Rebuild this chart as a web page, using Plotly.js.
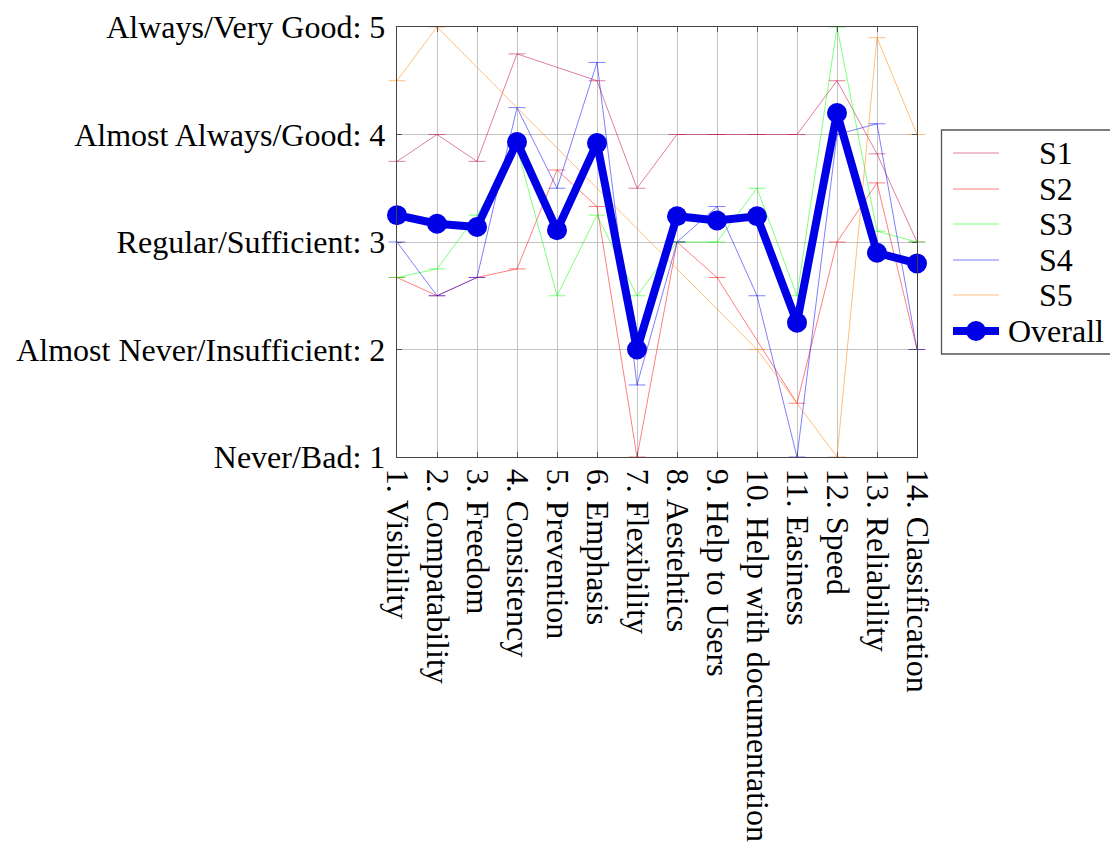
<!DOCTYPE html>
<html>
<head>
<meta charset="utf-8">
<script src="https://cdn.plot.ly/plotly-3.0.1.min.js"></script>
<style>
  html, body { margin: 0; padding: 0; background: #fff; }
  #chart { width: 1110px; height: 851px; }
</style>
</head>
<body>
<div id="chart"></div>
<script>
// Heuristic criteria (x axis) and rating scale (y axis)
const criteria = [
  "1. Visibility", "2. Compatability", "3. Freedom", "4. Consistency",
  "5. Prevention", "6. Emphasis", "7. Flexibility", "8. Aestehtics",
  "9. Help to Users", "10. Help with documentation", "11. Easiness",
  "12. Speed", "13. Reliability", "14. Classification"
];
const scaleValues = [1, 2, 3, 4, 5];
const scaleLabels = [
  "Never/Bad: 1", "Almost Never/Insufficient: 2", "Regular/Sufficient: 3",
  "Almost Always/Good: 4", "Always/Very Good: 5"
];

// Mean score per criterion for each system (null = not rated)
const s1 = [3.75, 4.0, 3.75, 4.75, null, 4.5, 3.5, 4.0, 4.0, 4.0, 4.0, 4.5, 3.82, 3.0];
const s2 = [2.67, 2.5, 2.67, 2.75, 3.67, 3.33, 1.0, 3.0, 2.67, null, 1.5, 3.0, 3.55, 2.0];
const s3 = [2.67, 2.75, 3.25, 3.88, 2.5, 3.25, 2.5, 3.0, 3.0, 3.5, 2.5, 5.0, 3.1, 3.0];
const s4 = [3.0, 2.5, 2.67, 4.25, 3.5, 4.67, 1.67, 3.0, 3.33, 2.5, 1.0, 4.0, 4.1, 2.0];
const s5 = [4.5, 5.0, null, null, null, null, null, null, null, 2.0, null, 1.0, 4.9, 4.0];
const overall = [3.25, 3.17, 3.14, 3.93, 3.11, 3.92, 2.0, 3.24, 3.2, 3.24, 2.25, 4.2, 2.9, 2.8];

const seriesNames = ["S1", "S2", "S3", "S4", "S5"];
const seriesData = [s1, s2, s3, s4, s5];
const seriesColors = [
  "rgba(191,0,64,0.5)", "rgba(255,0,0,0.5)", "rgba(0,255,0,0.5)",
  "rgba(0,0,255,0.5)", "rgba(255,128,0,0.5)"
];
const overallColor = "rgb(0,0,230)";

const xs = criteria.map((_, i) => i + 1);
const FONT = "Liberation Serif, Times New Roman, serif";
const FS = 32;

const traces = seriesData.map((vals, k) => ({
  type: "scatter",
  mode: "lines+markers",
  name: seriesNames[k],
  x: xs,
  y: vals,
  connectgaps: true,
  cliponaxis: false,
  line: { color: seriesColors[k], width: 1 },
  marker: {
    symbol: "line-ew", size: 12, color: seriesColors[k],
    line: { color: seriesColors[k], width: 1 }
  },
  showlegend: false
}));

traces.push({
  type: "scatter",
  mode: "lines+markers",
  name: "Overall",
  x: xs,
  y: overall,
  cliponaxis: false,
  line: { color: overallColor, width: 8 },
  marker: { symbol: "circle", size: 20, color: overallColor },
  showlegend: false
});

// Legend drawn in paper coordinates (plot area spans 397..917 x 27..457 px)
const plotL = 397, plotW = 520, plotT = 27, plotH = 430;
const px = v => (v - plotL) / plotW;
const py = v => (plotT + plotH - v) / plotH;
const legendRows = [153, 189, 224, 260, 295, 331];
const legendNames = seriesNames.concat(["Overall"]);
const legendColors = seriesColors.concat([overallColor]);

const shapes = [{
  type: "rect", xref: "paper", yref: "paper",
  x0: px(941.5), x1: px(1125), y0: py(354), y1: py(130),
  line: { color: "#555", width: 1.3 }, fillcolor: "rgba(0,0,0,0)"
}];
const annotations = [];
legendRows.forEach((ry, i) => {
  const isOverall = i === legendRows.length - 1;
  shapes.push({
    type: "line", xref: "paper", yref: "paper",
    x0: px(953), x1: px(999), y0: py(ry), y1: py(ry),
    line: { color: legendColors[i], width: isOverall ? 8 : 1.2 }
  });
  if (isOverall) {
    shapes.push({
      type: "circle", xref: "paper", yref: "paper",
      x0: px(966), x1: px(986), y0: py(ry + 10), y1: py(ry - 10),
      line: { width: 0 }, fillcolor: overallColor
    });
  }
  annotations.push({
    xref: "paper", yref: "paper", x: px(1056), y: py(ry),
    xanchor: "center", yanchor: "middle", showarrow: false,
    text: legendNames[i], font: { family: FONT, size: FS, color: "#000" }
  });
});

const layout = {
  width: 1110, height: 851,
  margin: { l: plotL, r: 1110 - plotL - plotW, t: plotT, b: 851 - plotT - plotH, pad: 0 },
  paper_bgcolor: "#fff", plot_bgcolor: "#fff",
  showlegend: false,
  font: { family: FONT, size: FS, color: "#000" },
  xaxis: {
    range: [1, 14], tickmode: "array", tickvals: xs, ticktext: criteria,
    tickangle: 90, showgrid: true, gridcolor: "#c4c4c4", gridwidth: 1,
    zeroline: false, showline: true, linecolor: "#444", linewidth: 1.3,
    mirror: "allticks", ticks: "inside", ticklen: 5, tickcolor: "#555",
    ticklabelstandoff: 4, tickfont: { family: FONT, size: FS, color: "#000" }
  },
  yaxis: {
    range: [1, 5], tickmode: "array", tickvals: scaleValues, ticktext: scaleLabels,
    showgrid: true, gridcolor: "#c4c4c4", gridwidth: 1,
    zeroline: false, showline: true, linecolor: "#444", linewidth: 1.3,
    mirror: "allticks", ticks: "inside", ticklen: 5, tickcolor: "#555",
    ticklabelstandoff: 4, tickfont: { family: FONT, size: FS, color: "#000" }
  },
  shapes: shapes,
  annotations: annotations
};

Plotly.newPlot("chart", traces, layout, { staticPlot: true, displayModeBar: false });
</script>
</body>
</html>
